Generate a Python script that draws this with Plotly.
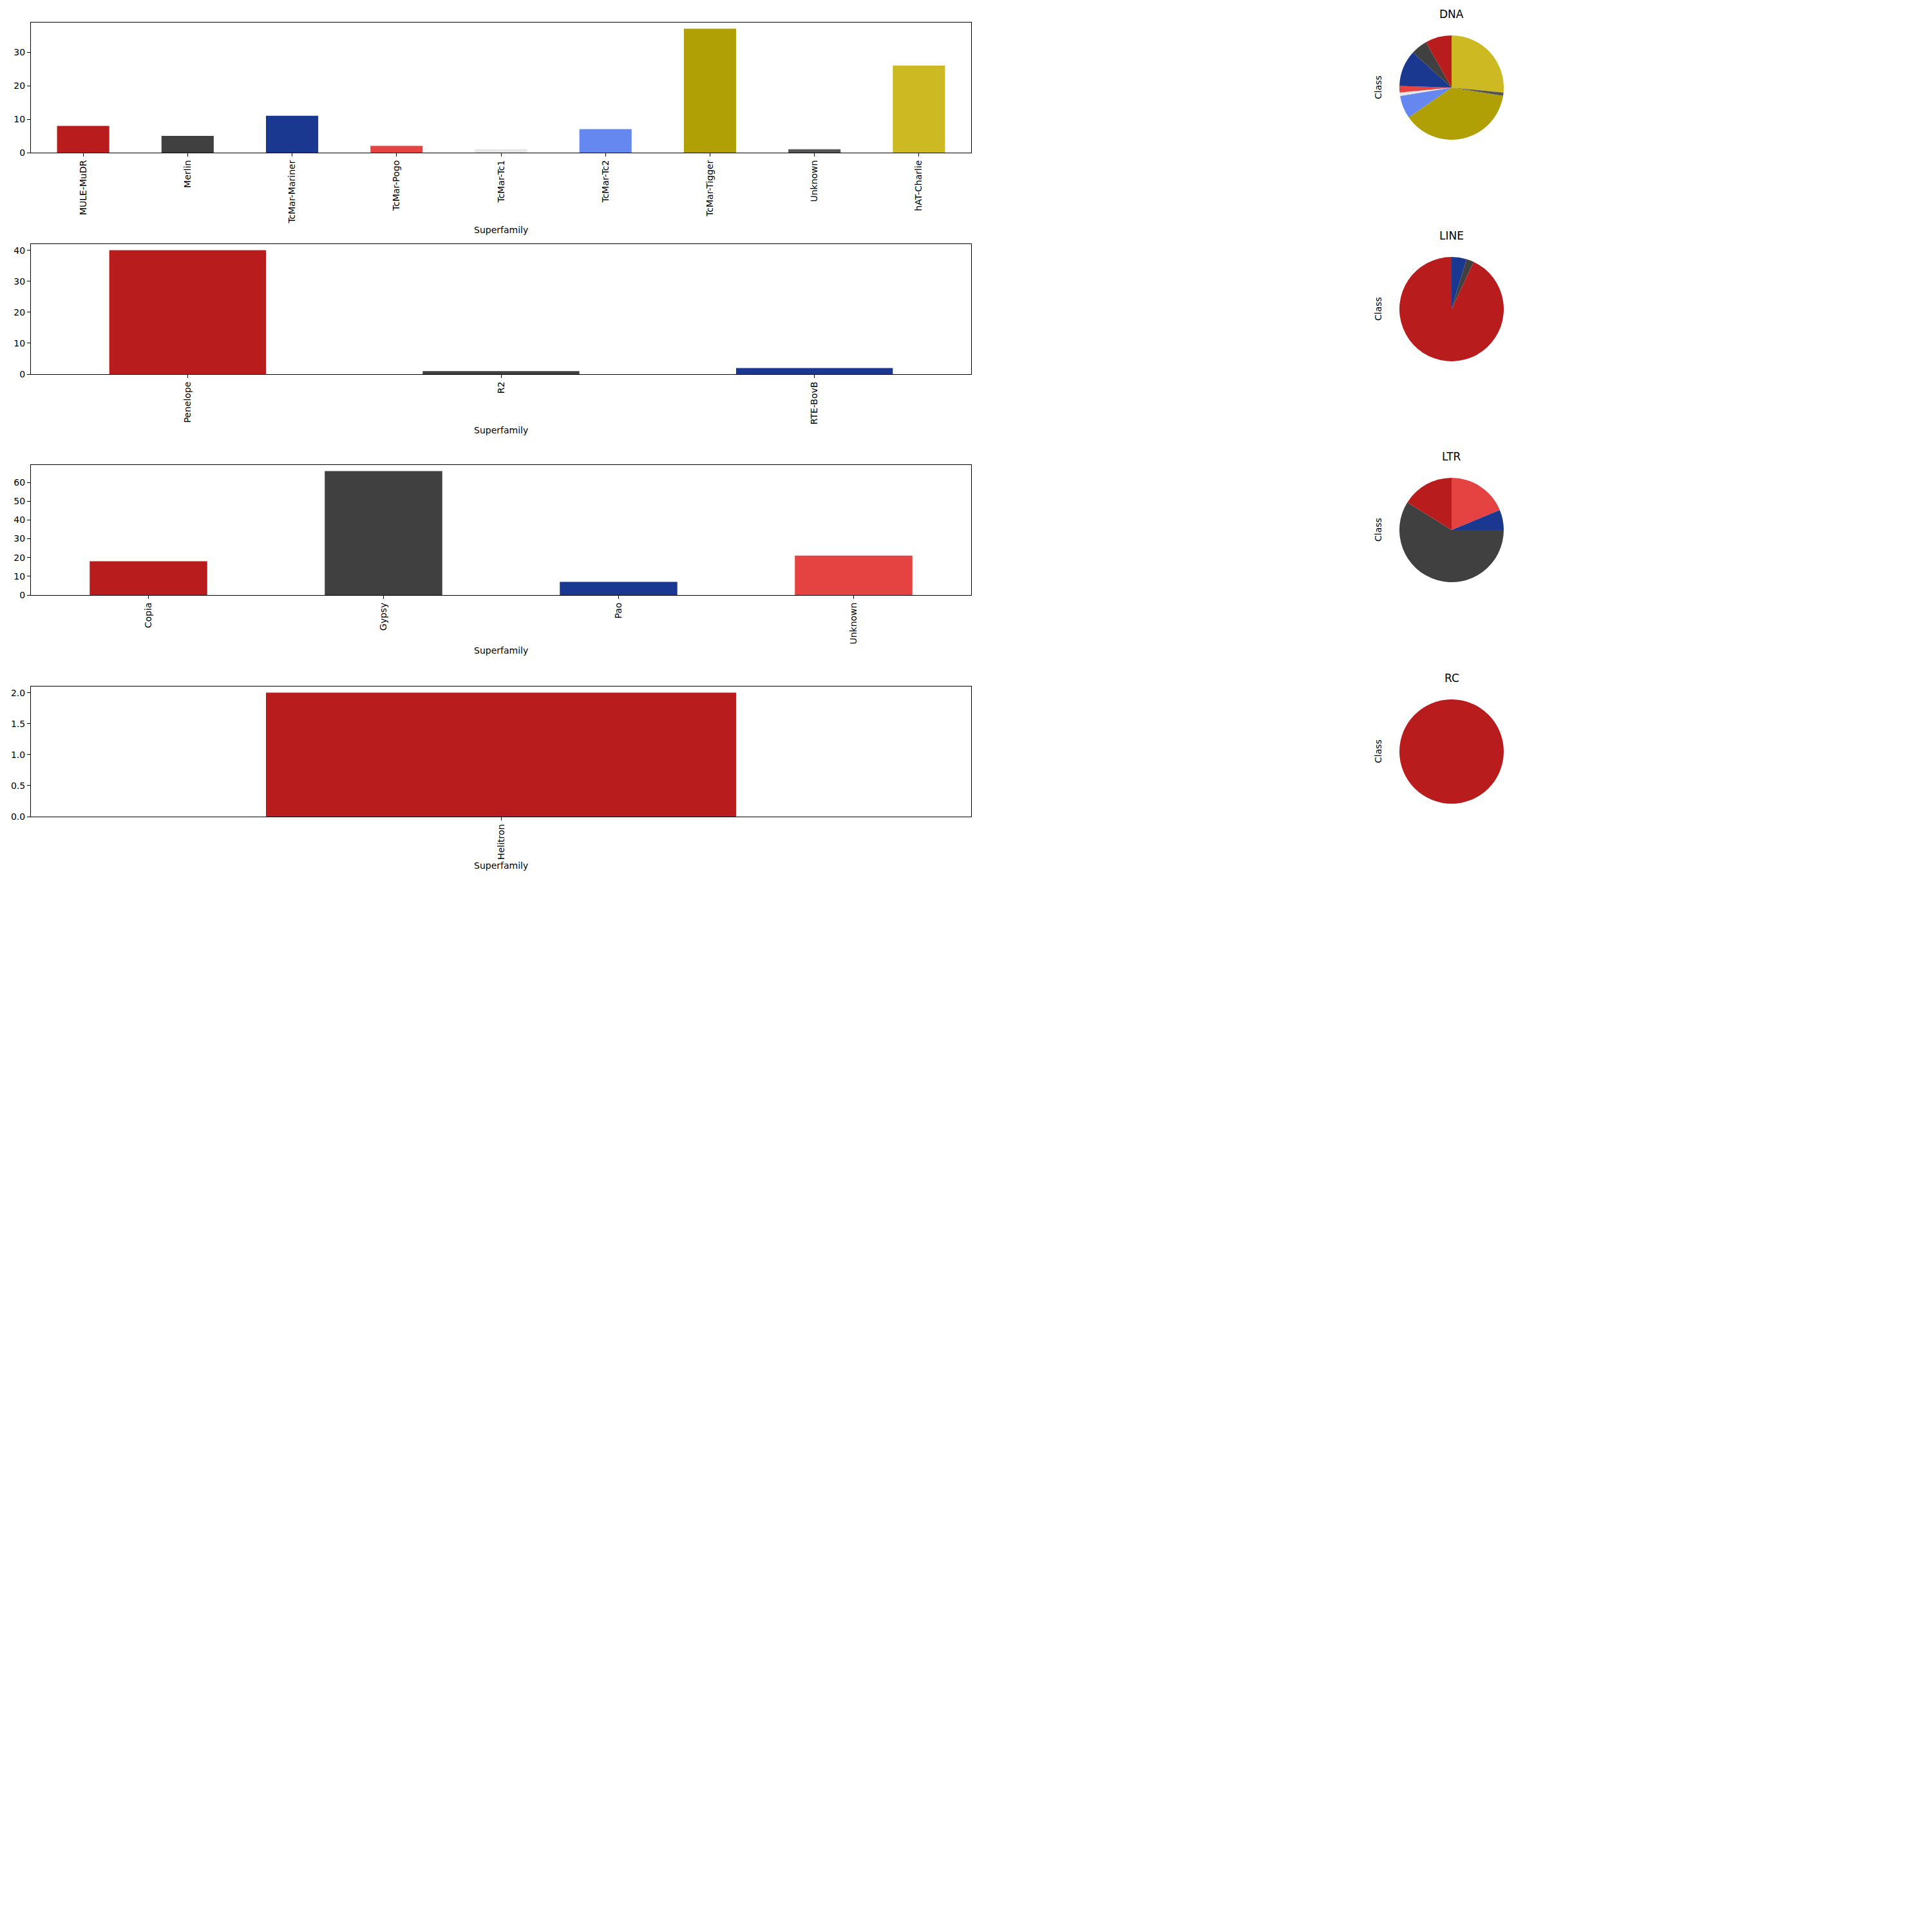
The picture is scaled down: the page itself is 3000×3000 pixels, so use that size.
import plotly.graph_objects as go

W = H = 3000

# ---- data ----
dna_families = ["MULE-MuDR", "Merlin", "TcMar-Mariner", "TcMar-Pogo", "TcMar-Tc1",
                "TcMar-Tc2", "TcMar-Tigger", "Unknown", "hAT-Charlie"]
dna_counts = [8, 5, 11, 2, 1, 7, 37, 1, 26]

line_families = ["Penelope", "R2", "RTE-BovB"]
line_counts = [40, 1, 2]

ltr_families = ["Copia", "Gypsy", "Pao", "Unknown"]
ltr_counts = [18, 66, 7, 21]

rc_families = ["Helitron"]
rc_counts = [2]

class_names = ["DNA", "LINE", "LTR", "RC"]

# ---- style ----
palette = ["#B91C1C", "#404040", "#1B3891", "#E54242", "#E6E6E6",
           "#6488F0", "#B0A005", "#555555", "#CDBA22"]
FONT = "DejaVu Sans"
FS = 14

panels = [
    (dna_families, dna_counts, 35, 237, 136, 357, 10, None),
    (line_families, line_counts, 379, 581, 480, 668, 10, None),
    (ltr_families, ltr_counts, 722, 924, 823, 1010, 10, None),
    (rc_families, rc_counts, 1066, 1268, 1167, 1344, 0.5, ".1f"),
]

bar_x0, bar_x1 = 48, 1508
pie_cx, pie_r = 2254, 81
title_off = 114  # pie title above pie center
class_x = 2140

fig = go.Figure()
layout = dict(
    width=W, height=H, margin=dict(l=0, r=0, t=0, b=0),
    paper_bgcolor="white", plot_bgcolor="white", showlegend=False,
    font=dict(family=FONT, size=FS, color="black"),
    template="none",
)
annotations = []

for i, (cats, vals, top, bot, pcy, xlab_y, dt, fmt) in enumerate(panels):
    n = i + 1
    xa = "x" if n == 1 else f"x{n}"
    ya = "y" if n == 1 else f"y{n}"
    colors = [palette[k % len(palette)] for k in range(len(cats))]
    fig.add_trace(go.Bar(
        x=cats, y=vals, width=0.5, marker=dict(color=colors, line=dict(width=0)),
        xaxis=xa, yaxis=ya, hoverinfo="x+y",
    ))
    ymax = max(vals) * 1.05
    layout["xaxis" if n == 1 else f"xaxis{n}"] = dict(
        domain=[bar_x0 / W, bar_x1 / W], anchor=ya, type="category",
        range=[-0.5, len(cats) - 0.5],
        showline=True, linecolor="black", linewidth=1, mirror=True,
        ticks="outside", ticklen=5, tickwidth=1, tickcolor="black",
        tickangle=-90, showgrid=False, zeroline=False, automargin=False,
        tickfont=dict(family=FONT, size=FS, color="black"),
    )
    yax = dict(
        domain=[1 - bot / H, 1 - top / H], anchor=xa,
        range=[0, ymax], dtick=dt, tick0=0,
        showline=True, linecolor="black", linewidth=1, mirror=True,
        ticks="outside", ticklen=5, tickwidth=1, tickcolor="black",
        showgrid=False, zeroline=False, automargin=False,
        tickfont=dict(family=FONT, size=FS, color="black"),
    )
    if fmt:
        yax["tickformat"] = fmt
    layout["yaxis" if n == 1 else f"yaxis{n}"] = yax

    annotations.append(dict(
        text="Superfamily", xref="paper", yref="paper",
        x=(bar_x0 + bar_x1) / 2 / W, y=1 - xlab_y / H,
        xanchor="center", yanchor="middle", showarrow=False,
        font=dict(family=FONT, size=FS, color="black"),
    ))

    # pie: first category starts at 12 o'clock and runs counter-clockwise
    # (equivalent to clockwise drawing of the reversed order)
    fig.add_trace(go.Pie(
        labels=cats[::-1], values=vals[::-1], sort=False, direction="clockwise",
        rotation=0, textinfo="none", hoverinfo="label+value",
        marker=dict(colors=colors[::-1], line=dict(width=0)),
        domain=dict(x=[(pie_cx - pie_r) / W, (pie_cx + pie_r) / W],
                    y=[1 - (pcy + pie_r) / H, 1 - (pcy - pie_r) / H]),
    ))
    annotations.append(dict(
        text=class_names[i], xref="paper", yref="paper",
        x=pie_cx / W, y=1 - (pcy - title_off) / H,
        xanchor="center", yanchor="middle", showarrow=False,
        font=dict(family=FONT, size=17, color="black"),
    ))
    annotations.append(dict(
        text="Class", xref="paper", yref="paper", textangle=-90,
        x=class_x / W, y=1 - pcy / H,
        xanchor="center", yanchor="middle", showarrow=False,
        font=dict(family=FONT, size=FS, color="black"),
    ))

layout["annotations"] = annotations
fig.update_layout(**layout)
fig.write_html("out.html")
